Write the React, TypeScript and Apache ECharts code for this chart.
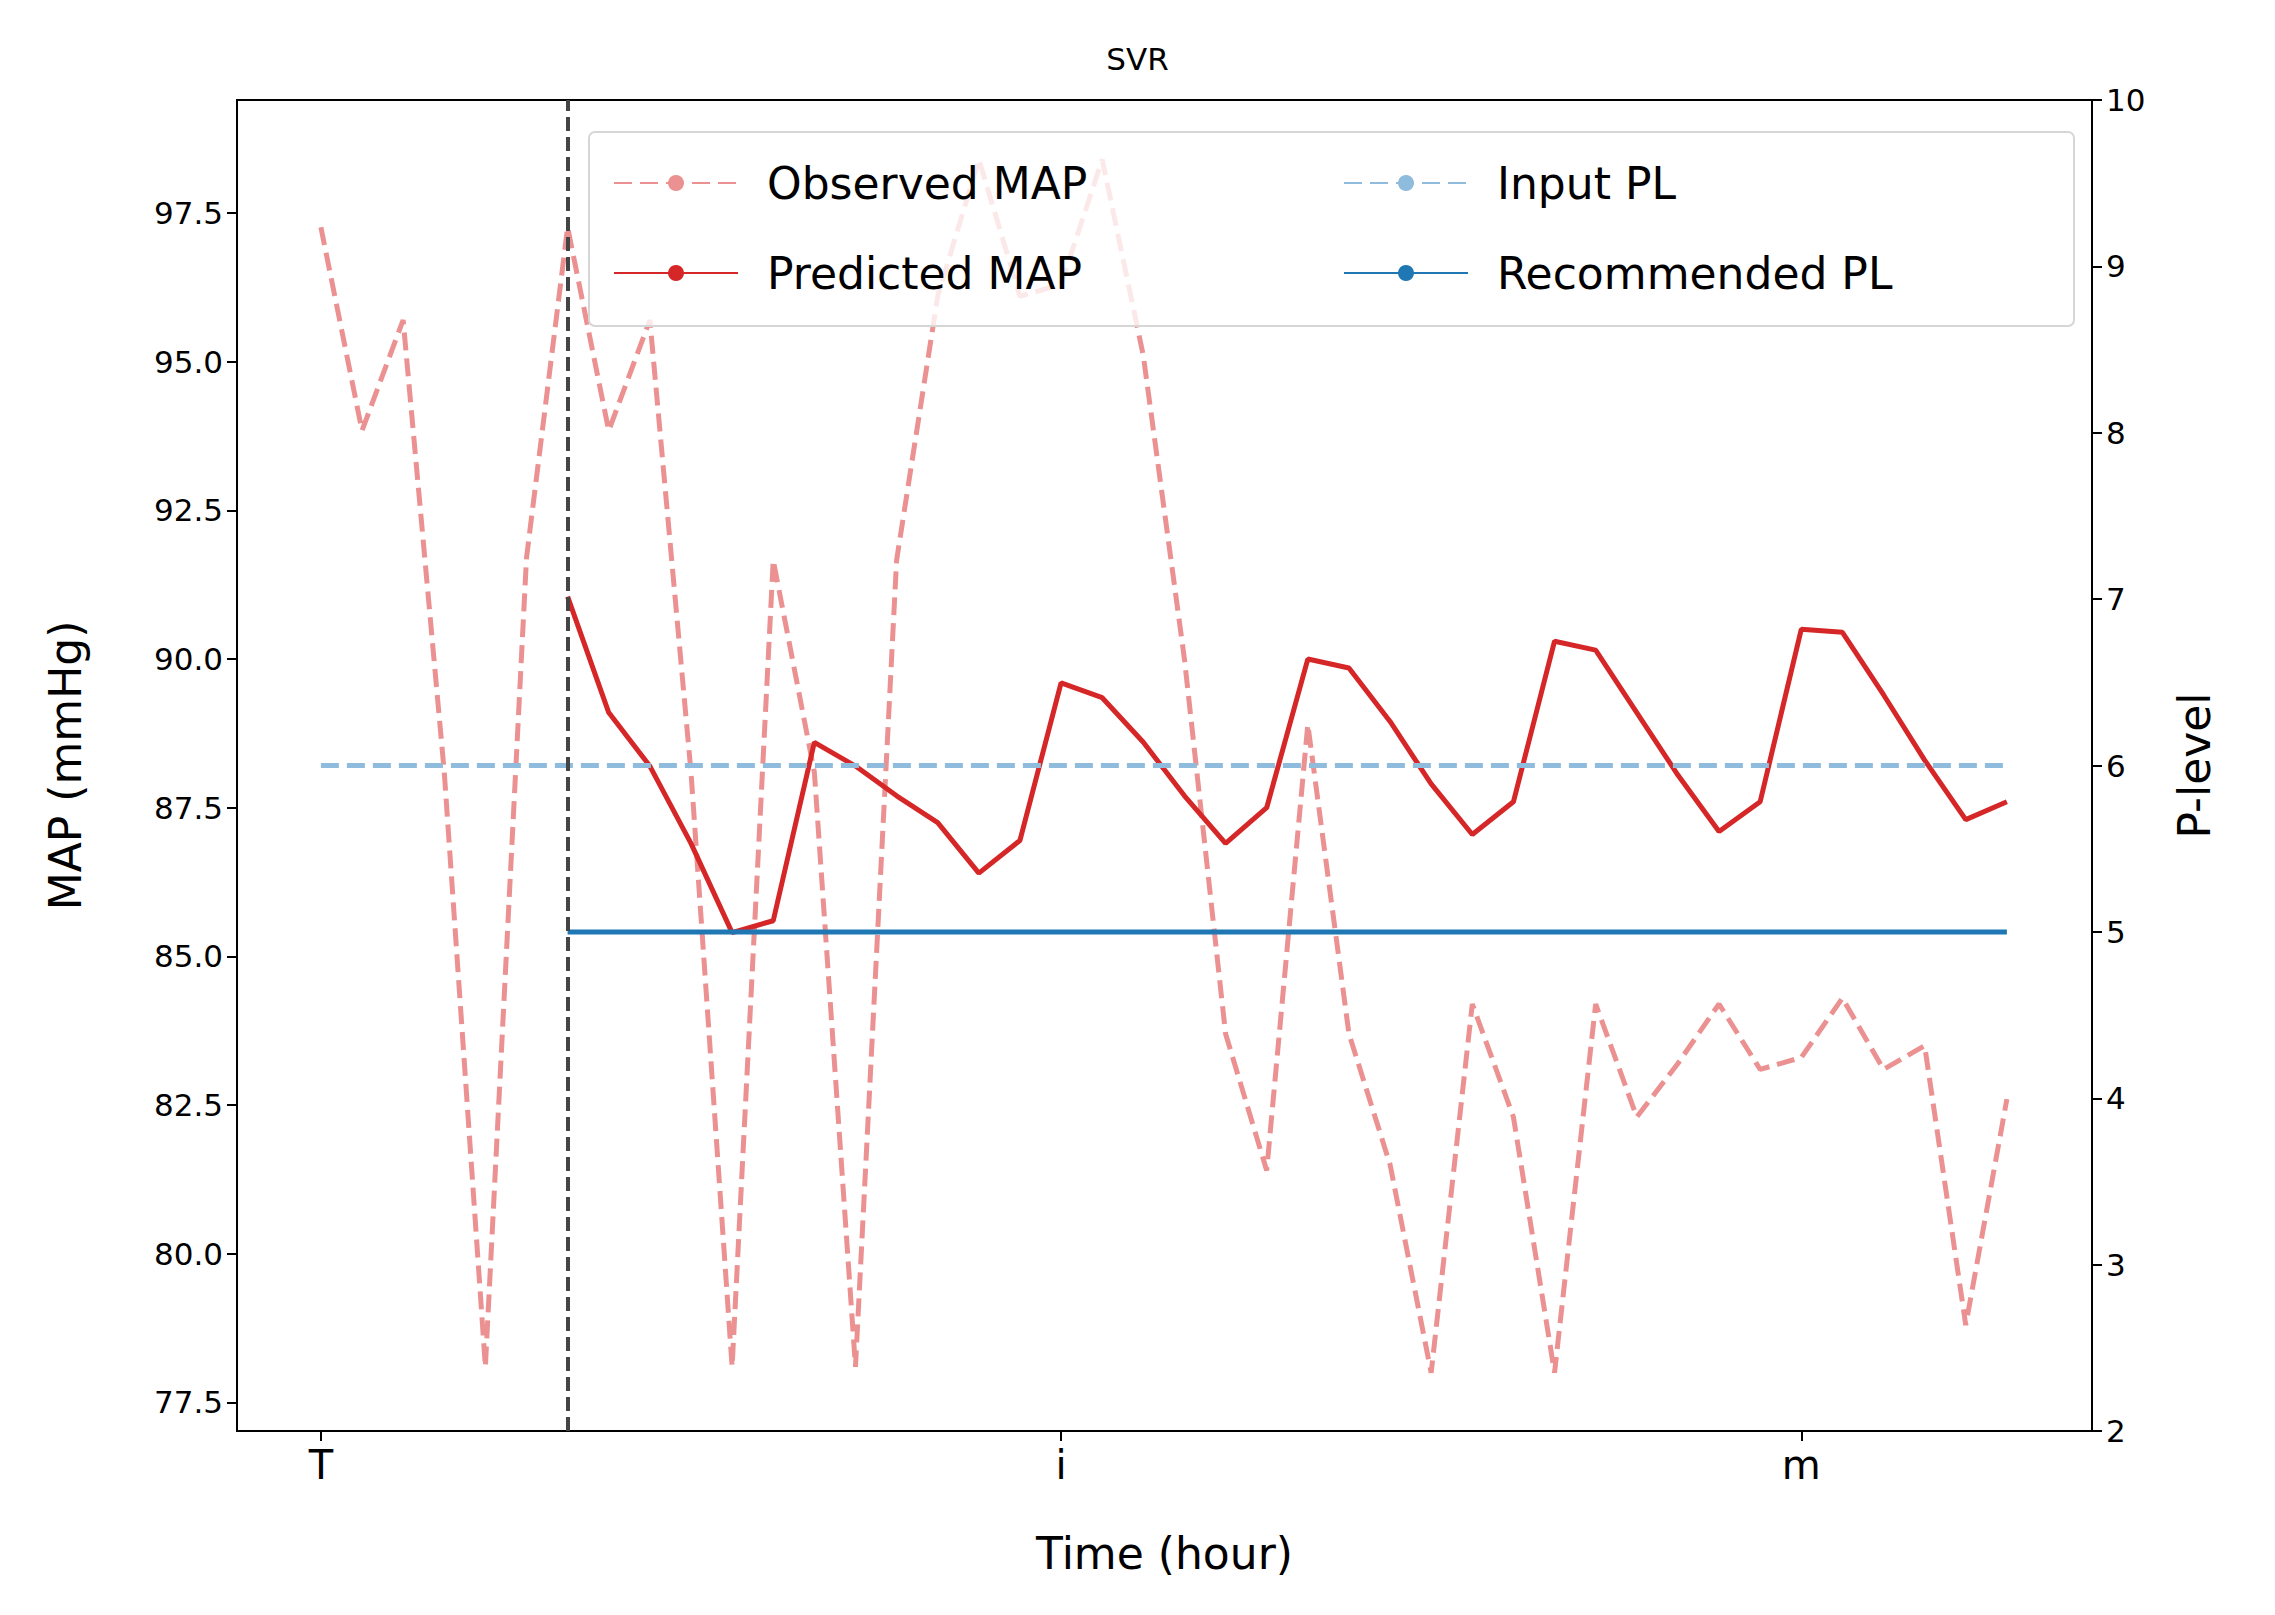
import { useEffect, useRef } from 'react';
import * as echarts from 'echarts';

const observedMap = [
  97.26, 93.84, 95.7, 88.1, 78.1, 91.7, 97.26, 93.84, 95.7, 88.1,
  78.1, 91.66, 88.1, 78.1, 91.66, 96.1, 98.4, 96.1, 96.3, 98.4,
  95.1, 90.0, 83.7, 81.4, 88.9, 83.7, 81.5, 78.0, 84.2, 82.3,
  78.0, 84.2, 82.3, 83.2, 84.2, 83.1, 83.3, 84.3, 83.1, 83.5,
  78.8, 82.6,
];
const predictedStart = 6;
const predictedMap = [
  91.05, 89.1, 88.2, 86.9, 85.4, 85.6, 88.6, 88.2, 87.7, 87.25,
  86.4, 86.95, 89.6, 89.35, 88.6, 87.7, 86.9, 87.5, 90.0, 89.85,
  88.95, 87.9, 87.05, 87.6, 90.3, 90.15, 89.1, 88.05, 87.1, 87.6,
  90.5, 90.45, 89.4, 88.3, 87.3, 87.6,
];
const inputPL = 6;
const recommendedPL = 5;
const xTicks = [0, 18, 36];
const tickLabels: Record<number, string> = { 0: 'T', 18: 'i', 36: 'm' };
const yTicks = [77.5, 80, 82.5, 85, 87.5, 90, 92.5, 95, 97.5];

const FONT = 'DejaVu Sans';

export default function App() {
  const ref = useRef<HTMLDivElement>(null);

  useEffect(() => {
    if (!ref.current) return;
    const chart = echarts.init(ref.current, undefined, { renderer: 'svg' });
    const lastX = observedMap.length - 1;
    const legendText = { fontSize: 44, color: '#000', fontFamily: FONT, padding: [0, 0, 0, 24] };

    chart.setOption({
      animation: false,
      textStyle: { fontFamily: FONT },
      title: {
        text: 'SVR',
        left: 'center',
        top: 30,
        textStyle: { fontSize: 31, fontWeight: 'normal', color: '#000', fontFamily: FONT },
      },
      grid: { left: 229, right: 175, top: 92, bottom: 176, show: true, borderColor: '#000', borderWidth: 2 },
      graphic: [
        {
          type: 'rect',
          shape: { x: 581, y: 124, width: 1485, height: 194, r: 6 },
          style: { fill: 'rgba(255,255,255,0.8)', stroke: '#d6d6d6', lineWidth: 2 },
          z: 90,
        },
      ],
      legend: [
        {
          data: ['Observed MAP', 'Predicted MAP'],
          orient: 'vertical',
          left: 600,
          top: 148,
          itemWidth: 124,
          itemHeight: 20,
          itemGap: 46,
          z: 100,
          textStyle: legendText,
        },
        {
          data: ['Input PL', 'Recommended PL'],
          orient: 'vertical',
          left: 1330,
          top: 148,
          itemWidth: 124,
          itemHeight: 20,
          itemGap: 46,
          z: 100,
          textStyle: legendText,
        },
      ],
      xAxis: {
        type: 'value',
        min: -2.04,
        max: 43.07,
        name: 'Time (hour)',
        nameLocation: 'middle',
        nameGap: 100,
        nameTextStyle: { fontSize: 44, color: '#000', fontFamily: FONT },
        axisLine: { onZero: false, lineStyle: { color: '#000', width: 2 } },
        axisTick: { show: true, length: 10, customValues: xTicks, lineStyle: { color: '#000', width: 2 } },
        axisLabel: {
          fontSize: 40,
          color: '#000',
          margin: 14,
          customValues: xTicks,
          formatter: (v: number) => tickLabels[Math.round(v)] ?? '',
        },
        splitLine: { show: false },
      },
      yAxis: [
        {
          type: 'value',
          min: 77.02,
          max: 99.4,
          name: 'MAP (mmHg)',
          nameLocation: 'middle',
          nameGap: 150,
          nameTextStyle: { fontSize: 44, color: '#000', fontFamily: FONT },
          axisLine: { show: true, onZero: false, lineStyle: { color: '#000', width: 2 } },
          axisTick: { show: true, length: 10, customValues: yTicks, lineStyle: { color: '#000', width: 2 } },
          axisLabel: {
            fontSize: 31,
            color: '#000',
            margin: 14,
            customValues: yTicks,
            formatter: (v: number) => v.toFixed(1),
          },
          splitLine: { show: false },
        },
        {
          type: 'value',
          min: 2,
          max: 10,
          interval: 1,
          name: 'P-level',
          nameLocation: 'middle',
          nameGap: 80,
          nameTextStyle: { fontSize: 44, color: '#000', fontFamily: FONT },
          axisLine: { show: true, onZero: false, lineStyle: { color: '#000', width: 2 } },
          axisTick: { show: true, length: 10, lineStyle: { color: '#000', width: 2 } },
          axisLabel: { fontSize: 31, color: '#000', margin: 14 },
          splitLine: { show: false },
        },
      ],
      series: [
        {
          name: 'Observed MAP',
          type: 'line',
          symbol: 'none',
          data: observedMap.map((v, i) => [i, v]),
          lineStyle: { color: '#eb9191', width: 5, type: [18, 8] },
          itemStyle: { color: '#eb9191' },
          markLine: {
            silent: true,
            symbol: 'none',
            label: { show: false },
            lineStyle: { color: '#444', width: 4, type: [14, 6] },
            data: [{ xAxis: predictedStart }],
          },
        },
        {
          name: 'Predicted MAP',
          type: 'line',
          symbol: 'none',
          data: predictedMap.map((v, i) => [i + predictedStart, v]),
          lineStyle: { color: '#d62728', width: 5 },
          itemStyle: { color: '#d62728' },
        },
        {
          name: 'Input PL',
          type: 'line',
          yAxisIndex: 1,
          symbol: 'none',
          data: [[0, inputPL], [lastX, inputPL]],
          lineStyle: { color: '#8fbbdc', width: 5, type: [18, 8] },
          itemStyle: { color: '#8fbbdc' },
        },
        {
          name: 'Recommended PL',
          type: 'line',
          yAxisIndex: 1,
          symbol: 'none',
          data: [[predictedStart, recommendedPL], [lastX, recommendedPL]],
          lineStyle: { color: '#1f77b4', width: 5 },
          itemStyle: { color: '#1f77b4' },
        },
      ],
    });

    return () => chart.dispose();
  }, []);

  return <div ref={ref} style={{ width: 2259, height: 1599, background: '#fff' }} />;
}
